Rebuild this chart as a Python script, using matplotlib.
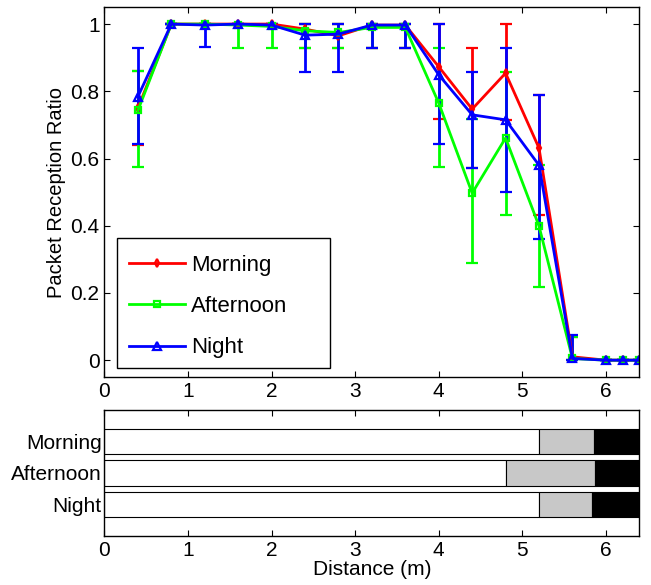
#!/usr/bin/env python3
"""Packet reception ratio vs distance for three times of day, plus a
strip chart of the good / grey / dead zones underneath."""

import matplotlib
matplotlib.use("Agg")
import matplotlib.pyplot as plt
from matplotlib.patches import Rectangle
import numpy as np

plt.rcParams["font.family"] = ["Liberation Sans", "DejaVu Sans"]

DIST = [0.4, 0.8, 1.2, 1.6, 2.0, 2.4, 2.8, 3.2, 3.6, 4.0, 4.4, 4.8, 5.2, 5.6, 6.0, 6.2, 6.4]

MORNING = [0.75, 1.0, 1.0, 1.0, 1.0, 0.985, 0.965, 0.997, 0.997, 0.873, 0.747, 0.854, 0.631, 0.01, 0.0, 0.0, 0.0]
MORNING_LO = [0.64, 1.0, 1.0, 1.0, 1.0, 0.93, 0.93, 0.93, 0.93, 0.717, 0.572, 0.715, 0.431, 0.0, 0.0, 0.0, 0.0]
MORNING_HI = [0.86, 1.0, 1.0, 1.0, 1.0, 1.0, 1.0, 1.0, 1.0, 1.0, 0.93, 1.0, 0.789, 0.07, 0.0, 0.0, 0.0]

AFTERNOON = [0.743, 1.0, 1.0, 0.997, 0.993, 0.98, 0.975, 0.99, 0.99, 0.765, 0.497, 0.661, 0.399, 0.005, 0.0, 0.0, 0.0]
AFTERNOON_LO = [0.575, 1.0, 1.0, 0.93, 0.93, 0.93, 0.93, 0.93, 0.93, 0.575, 0.288, 0.433, 0.218, 0.0, 0.0, 0.0, 0.0]
AFTERNOON_HI = [0.86, 1.0, 1.0, 1.0, 1.0, 1.0, 1.0, 1.0, 1.0, 0.93, 0.717, 0.858, 0.58, 0.07, 0.0, 0.0, 0.0]

NIGHT = [0.784, 1.0, 0.997, 1.0, 0.997, 0.967, 0.97, 0.997, 0.997, 0.849, 0.73, 0.715, 0.58, 0.005, 0.0, 0.0, 0.0]
NIGHT_LO = [0.644, 1.0, 0.933, 1.0, 0.997, 0.858, 0.858, 0.93, 0.93, 0.644, 0.572, 0.5, 0.361, 0.0, 0.0, 0.0, 0.0]
NIGHT_HI = [0.93, 1.0, 1.0, 1.0, 1.0, 1.0, 1.0, 1.0, 1.0, 1.0, 0.858, 0.93, 0.789, 0.074, 0.0, 0.0, 0.0]

# zone strip: connected region ends, transitional region ends, then dead to the edge
PERIODS = ["Morning", "Afternoon", "Night"]
CONNECTED_END = [5.2, 4.8, 5.2]
TRANSITION_END = [5.86, 5.87, 5.83]
RANGE_END = 6.4

SERIES = [
    ("Morning", MORNING, MORNING_LO, MORNING_HI, "#ff0000", "d", 4),
    ("Afternoon", AFTERNOON, AFTERNOON_LO, AFTERNOON_HI, "#00ff00", "s", 5),
    ("Night", NIGHT, NIGHT_LO, NIGHT_HI, "#0000ff", "^", 5.5),
]

FS = 15


def style_box(ax):
    ax.tick_params(direction="in", top=True, right=True, length=4, width=0.8,
                   labelsize=FS, colors="black")
    for s in ax.spines.values():
        s.set_linewidth(1.0)


def main():
    fig = plt.figure(figsize=(6.51, 5.85), dpi=100)
    ax = fig.add_axes([0.1605, 0.3556, 0.8215, 0.632])
    ax2 = fig.add_axes([0.1605, 0.0838, 0.8215, 0.2154])

    x = np.array(DIST)
    for name, y, lo, hi, color, marker, ms in SERIES:
        y = np.array(y)
        yerr = np.vstack([y - np.array(lo), np.array(hi) - y])
        ax.errorbar(x, y, yerr=yerr, color=color, lw=2.0, elinewidth=2.0,
                    capsize=4, capthick=2.0, marker=marker, ms=ms,
                    mfc="none", mec=color, mew=1.6, label=name)

    ax.set_xlim(0, 6.4)
    ax.set_ylim(-0.05, 1.05)
    ax.set_xticks(range(7))
    ax.set_yticks([0, 0.2, 0.4, 0.6, 0.8, 1.0])
    ax.set_yticklabels(["0", "0.2", "0.4", "0.6", "0.8", "1"])
    ax.set_ylabel("Packet Reception Ratio", fontsize=14.5, labelpad=3)
    style_box(ax)

    # MATLAB-style legend box, wider than its contents
    ax.add_patch(Rectangle((0.0234, 0.024), 0.398, 0.352, transform=ax.transAxes,
                           facecolor="white", edgecolor="black", lw=1.0, zorder=4.5))
    handles, labels = ax.get_legend_handles_labels()
    handles = [h[0] for h in handles]
    ax.legend(handles, labels, loc="lower left", bbox_to_anchor=(0.023, 0.017),
              borderaxespad=0, fontsize=16, frameon=False, handlelength=2.5,
              borderpad=0.55, labelspacing=0.92, handletextpad=0.3)

    ypos = np.arange(1, len(PERIODS) + 1)
    white_w = np.array(CONNECTED_END)
    grey_w = np.array(TRANSITION_END) - white_w
    black_w = RANGE_END - np.array(TRANSITION_END)
    ax2.barh(ypos, white_w, height=0.8, color="white", edgecolor="black", lw=0.8)
    ax2.barh(ypos, grey_w, left=white_w, height=0.8, color="#c8c8c8", edgecolor="black", lw=0.8)
    ax2.barh(ypos, black_w, left=TRANSITION_END, height=0.8, color="black", edgecolor="black", lw=0.8)
    ax2.set_xlim(0, 6.4)
    ax2.set_ylim(4, 0)
    ax2.set_xticks(range(7))
    ax2.set_yticks(ypos)
    ax2.set_yticklabels(PERIODS)
    style_box(ax2)
    ax2.tick_params(axis="y", length=0, left=False, right=False, pad=2)
    ax2.set_xlabel("Distance (m)", fontsize=FS, labelpad=0)

    fig.savefig("out.png", dpi=100)


if __name__ == "__main__":
    main()
